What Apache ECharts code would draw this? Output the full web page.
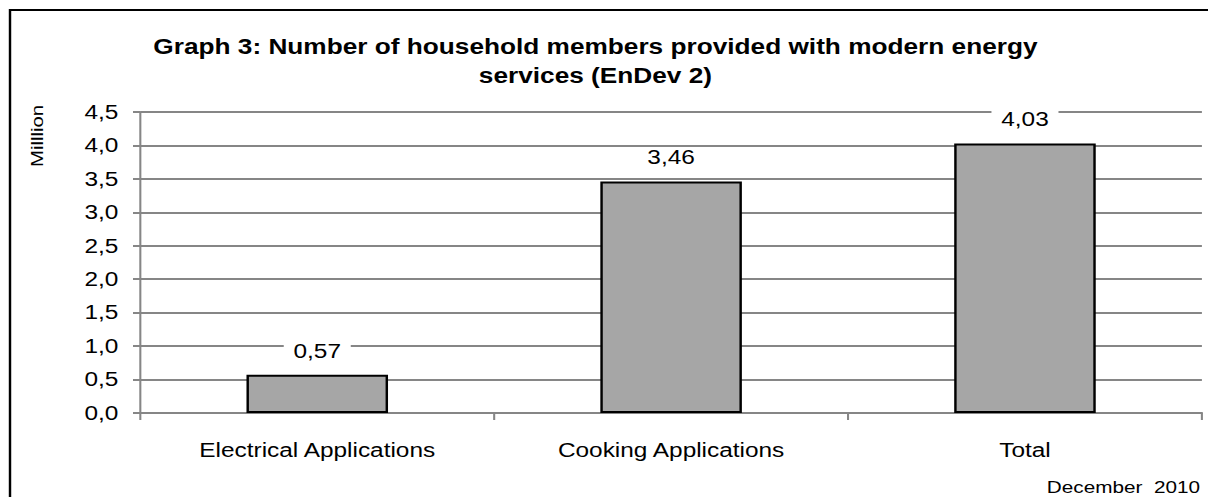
<!DOCTYPE html>
<html>
<head>
<meta charset="utf-8">
<script src="https://cdn.jsdelivr.net/npm/echarts@6/dist/echarts.min.js"></script>
<style>
html,body{margin:0;padding:0;background:#fff;overflow:hidden;}
#wrap{width:1208px;height:497px;overflow:hidden;}
#chart{width:990px;height:497px;transform:scaleX(1.22020);transform-origin:0 0;}
</style>
</head>
<body>
<div id="wrap"><div id="chart"></div></div>
<script>
const categories = ['Electrical Applications', 'Cooking Applications', 'Total'];
const values = [0.57, 3.46, 4.03];
const titleText = 'Graph 3: Number of household members provided with modern energy\nservices (EnDev 2)';
const yAxisName = 'Milllion';
const footnote = 'December  2010';

const fmt = v => v.toFixed(2).replace('.', ',');
const FONT = 'Liberation Sans, Arial, sans-serif';

const chart = echarts.init(document.getElementById('chart'), null, { renderer: 'svg' });
chart.setOption({
  animation: false,
  backgroundColor: '#fff',
  title: {
    text: titleText,
    left: 483, top: 27, textAlign: 'center',
    textStyle: { fontFamily: FONT, fontSize: 21.5, fontWeight: 'bold', color: '#000', lineHeight: 29 }
  },
  grid: { left: 115, right: 5, top: 112, bottom: 84 },
  xAxis: {
    type: 'category',
    data: categories,
    axisLine: { lineStyle: { color: '#868686', width: 2 } },
    axisTick: { show: true, length: 7, lineStyle: { color: '#868686', width: 1.7 } },
    axisLabel: { fontFamily: FONT, fontSize: 20, color: '#000', margin: 27 }
  },
  yAxis: {
    type: 'value',
    min: 0, max: 4.5, interval: 0.5,
    axisLine: { show: true, lineStyle: { color: '#868686', width: 1.7 } },
    axisTick: { show: true, length: 6, lineStyle: { color: '#868686', width: 2 } },
    axisLabel: { fontFamily: FONT, fontSize: 20, color: '#000', margin: 18,
      formatter: v => v.toFixed(1).replace('.', ',') },
    splitLine: { lineStyle: { color: '#868686', width: 2 } }
  },
  series: [{
    type: 'bar',
    data: values,
    barWidth: '40%',
    itemStyle: { color: '#a6a6a6', borderColor: '#000', borderWidth: 2 },
    label: {
      show: true, position: 'top', distance: 14,
      formatter: p => fmt(p.value),
      fontFamily: FONT, fontSize: 20, color: '#000',
      backgroundColor: '#fff', padding: [0, 8]
    }
  }],
  graphic: [
    { type: 'polyline', shape: { points: [[8.2, 600], [8.2, 10], [1000, 10]] },
      style: { fill: 'none', stroke: '#000', lineWidth: 2 }, z: 100 },
    { type: 'text', x: 30.5, y: 136, rotation: Math.PI / 2, scaleX: 1.45, scaleY: 1,
      style: { text: yAxisName, fontFamily: FONT, fontSize: 14, fill: '#000',
        textAlign: 'center', textVerticalAlign: 'middle' } },
    { type: 'text', x: 983.5, y: 487,
      style: { text: footnote, fontFamily: FONT, fontSize: 17, fill: '#000',
        textAlign: 'right', textVerticalAlign: 'middle' } }
  ]
});
</script>
</body>
</html>
